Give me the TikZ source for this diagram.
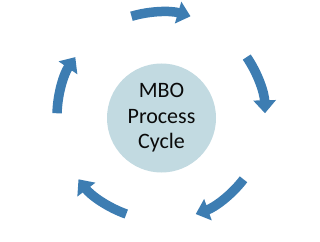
\documentclass[tikz,border=0pt]{standalone}
\usepackage{fontspec}
\setmainfont{Carlito}
\usetikzlibrary{arrows.meta}
\definecolor{cycblue}{RGB}{61,125,178}
\definecolor{cycfill}{RGB}{194,218,225}
\definecolor{cyctext}{RGB}{10,10,10}
\tikzset{
  cycarrow/.style={draw=cycblue, line width=9.5pt,
    -{Triangle[width=22pt,length=13pt]}},
  hub/.style={circle, fill=cycfill, minimum size=109pt, inner sep=0pt,
    text=cyctext, align=center, font=\fontsize{22}{25.6}\selectfont}
}
\begin{document}
\begin{tikzpicture}[x=1pt,y=1pt]
\useasboundingbox (0,0) rectangle (320,241);
\coordinate (c) at (161,125);
\node[hub] (hubnode) at (161.5,123) {MBO\\Process\\Cycle};
\foreach \m [count=\i] in {90,18,-54,-126,-198}{
  \draw[cycarrow] ([shift={(\m+16.5:104)}]c) arc[start angle=\m+16.5, end angle=\m-16.5, radius=104];
}
\end{tikzpicture}
\end{document}
